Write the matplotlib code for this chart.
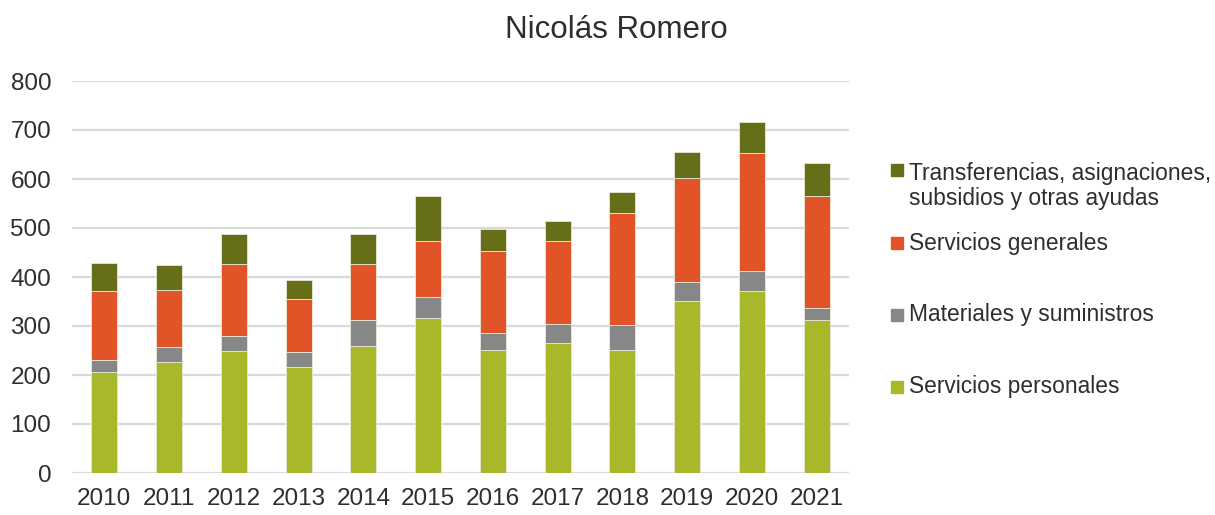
import matplotlib
matplotlib.use("Agg")
import matplotlib.pyplot as plt
import numpy as np
from matplotlib.patches import Rectangle

plt.rcParams["font.family"] = ["Liberation Sans", "DejaVu Sans"]

years = ["2010", "2011", "2012", "2013", "2014", "2015",
         "2016", "2017", "2018", "2019", "2020", "2021"]
servicios_personales = [207, 226, 249, 216, 260, 317, 252, 266, 252, 351, 371, 312]
materiales = [24, 32, 31, 31, 52, 42, 33, 38, 51, 38, 41, 24]
servicios_generales = [140, 116, 146, 109, 115, 115, 169, 170, 227, 213, 242, 230]
transferencias = [58, 51, 62, 38, 61, 92, 43, 40, 43, 54, 63, 67]

series_names = ["Servicios personales", "Materiales y suministros",
                "Servicios generales",
                "Transferencias, asignaciones,\nsubsidios y otras ayudas"]
colors = ["#a8b82a", "#878787", "#e05427", "#666e18"]
text_color = "#2e2e2e"

fig = plt.figure(figsize=(12.15, 5.15), dpi=100)
ax = fig.add_axes([72 / 1215, 1 - 473 / 515, 777 / 1215, 392 / 515])

x = np.arange(len(years))
bottom = np.zeros(len(years))
for vals, col in zip([servicios_personales, materiales, servicios_generales, transferencias], colors):
    ax.bar(x, vals, width=0.4, bottom=bottom, color=col, edgecolor="#e8e8d8", linewidth=0.6, zorder=3)
    bottom += np.array(vals)

ax.set_xlim(-0.5, len(years) - 0.5)
ax.set_ylim(0, 800)
ax.set_yticks(range(0, 801, 100))
ax.set_xticks(x)
ax.set_xticklabels(years)
ax.yaxis.grid(True, color="#d9d9d9", linewidth=1.6, zorder=0)
ax.set_axisbelow(True)
for s in ax.spines.values():
    s.set_visible(False)
ax.tick_params(axis="both", length=0, labelsize=17.5, colors=text_color)
ax.tick_params(axis="y", pad=15)
ax.tick_params(axis="x", pad=11)

fig.text(616 / 1215, 1 - 30 / 515, "Nicolás Romero", ha="center", va="center",
         fontsize=22.5, color=text_color)

# legend, drawn in reverse order like the reference
legend_y = [170, 243, 315, 387]
text_y = [186, 243, 315, 387]
for name, col, yy, ty in zip(series_names[::-1], colors[::-1], legend_y, text_y):
    fig.add_artist(Rectangle((891 / 1215, 1 - (yy + 6) / 515), 12 / 1215, 12 / 515,
                             transform=fig.transFigure, color=col))
    fig.text(909 / 1215, 1 - ty / 515, name, ha="left", va="center",
             fontsize=16.4, color=text_color, linespacing=1.12)

fig.savefig("out.png", dpi=100)
